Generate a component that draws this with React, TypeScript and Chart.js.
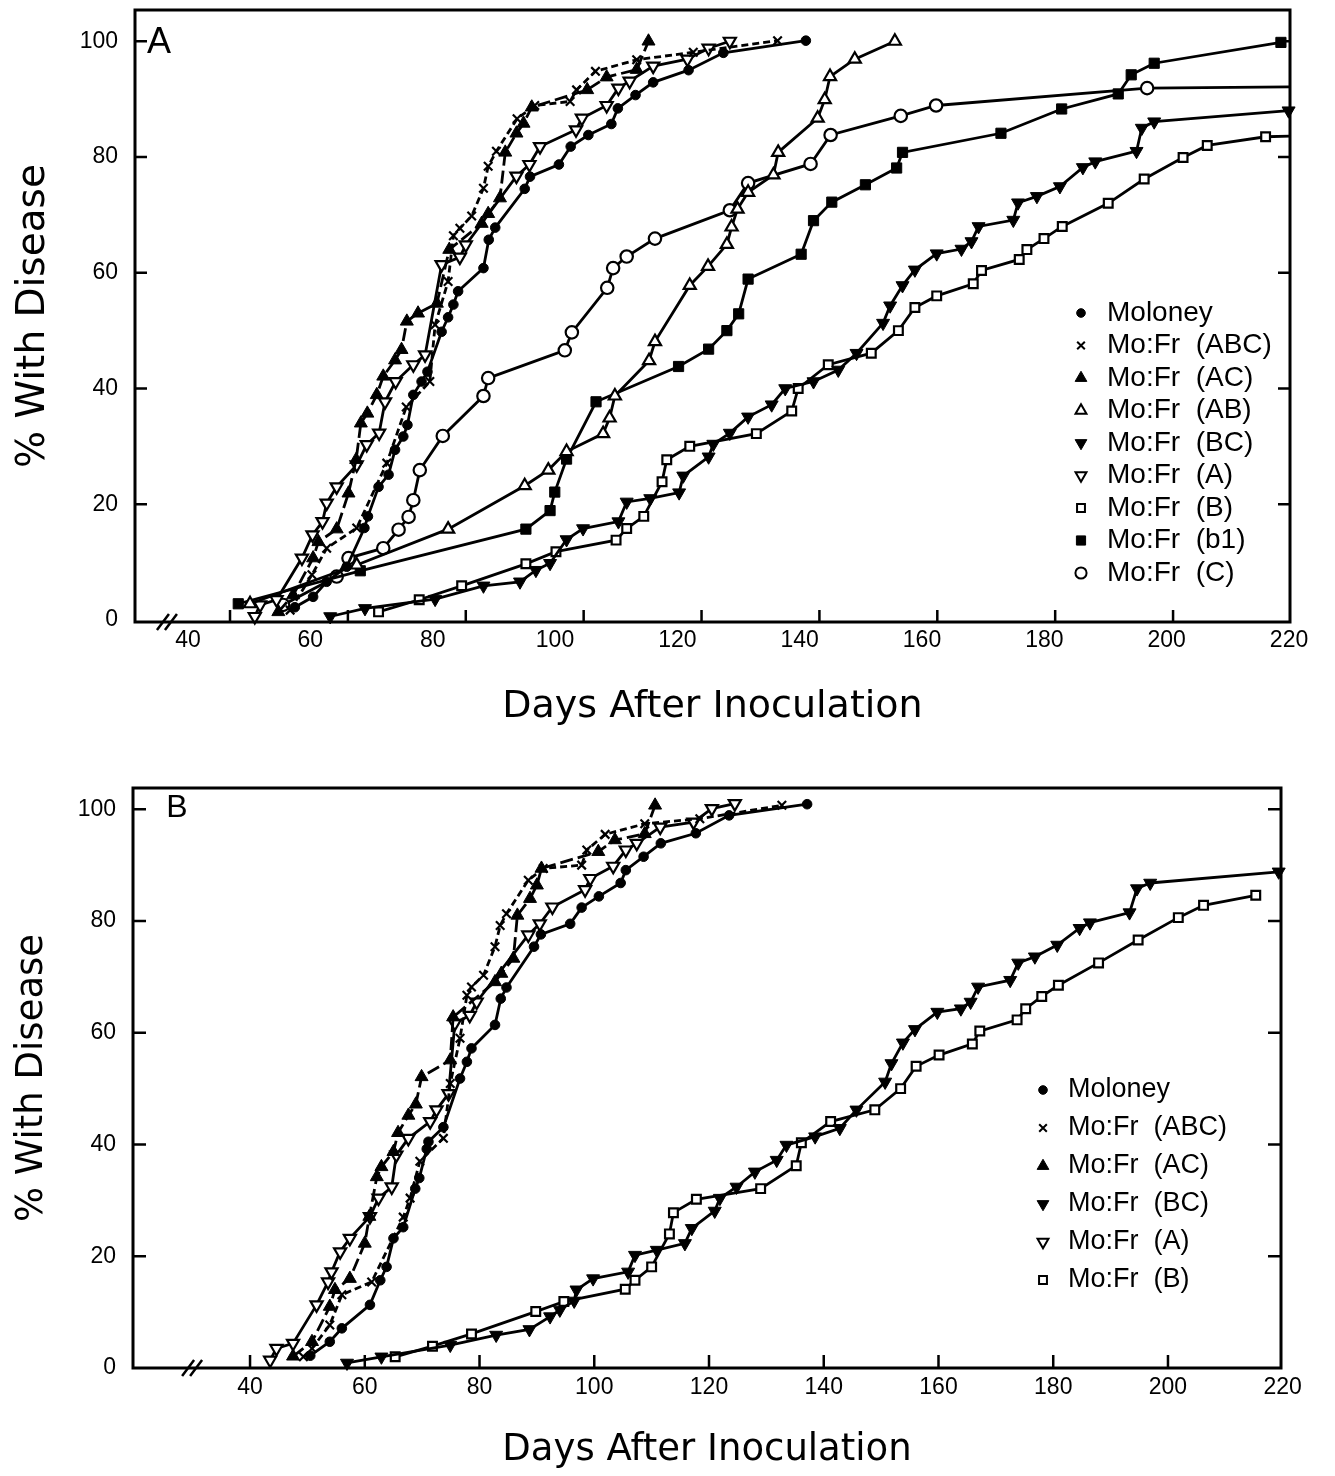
import React, { useEffect, useRef } from 'react';
import { Chart, registerables } from 'chart.js';
import { drawPoint } from 'chart.js/helpers';

Chart.register(...registerables);

type Pt = [number, number];

// ---------------- Panel A : [days after inoculation, % with disease] ----------------
const A_MOLONEY: Pt[] = [[51.0,2.2],[54.1,4.0],[56.4,6.6],[59.8,9.2],[62.8,15.9],[63.4,17.9],[65.2,23.0],[66.9,25.1],[68.0,29.4],[69.4,31.7],[70.1,33.7],[71.1,38.9],[72.5,41.2],[73.5,42.9],[75.9,49.8],[77.0,52.3],[77.9,54.5],[78.7,56.8],[83.0,60.8],[83.9,65.7],[85.0,67.8],[90.0,74.5],[90.9,76.6],[95.8,78.7],[97.8,81.8],[100.8,83.8],[104.7,85.7],[105.8,88.4],[108.8,90.7],[111.8,92.9],[117.8,95.0],[123.7,98.0],[137.7,100.1]];
const A_ABC: Pt[] = [[50.2,1.7],[53.9,7.8],[56.4,12.4],[61.5,15.9],[66.6,27.1],[69.9,36.8],[73.9,41.2],[74.8,51.0],[77.0,58.5],[77.9,66.4],[79.0,67.7],[81.0,69.8],[83.0,74.6],[83.8,78.4],[85.2,81.0],[88.7,86.6],[91.7,88.9],[97.7,89.6],[98.8,91.6],[102.0,94.8],[109.0,96.8],[118.6,98.1],[132.9,100.1]];
const A_AC: Pt[] = [[48.2,1.4],[50.7,4.3],[54.1,10.7],[55.0,13.5],[58.1,15.7],[60.1,21.9],[61.4,27.7],[62.2,34.0],[63.3,35.7],[64.9,38.9],[66.0,42.1],[68.0,44.9],[69.1,46.7],[70.0,51.6],[71.9,53.0],[75.1,54.7],[77.2,64.0],[82.7,68.5],[83.8,70.2],[85.8,72.9],[86.7,80.8],[88.6,84.1],[89.8,85.8],[91.2,88.6],[100.6,91.6],[103.9,93.8],[109.0,95.1],[111.0,100.0]];
const A_AB: Pt[] = [[43.4,2.8],[61.5,9.5],[77.0,15.7],[90.0,23.2],[94.0,25.9],[97.1,29.1],[103.3,32.2],[104.4,34.9],[105.3,38.7],[111.1,44.8],[112.1,48.1],[118.0,57.8],[121.1,61.1],[124.3,64.9],[125.1,67.9],[126.1,71.0],[127.9,73.9],[132.2,76.9],[133.0,80.8],[139.7,86.7],[140.9,89.9],[141.8,93.9],[146.0,96.9],[152.8,100.0]];
const A_BC: Pt[] = [[57.0,0.6],[62.9,2.0],[74.8,3.6],[83.0,5.9],[89.2,6.6],[91.9,8.6],[94.3,9.8],[97.1,13.9],[99.9,15.8],[105.9,17.0],[107.3,20.4],[111.3,21.0],[116.2,22.0],[116.9,24.9],[121.2,28.2],[122.0,30.4],[124.8,32.3],[127.9,35.1],[131.9,37.2],[134.2,40.0],[139.0,41.2],[143.2,43.2],[146.3,46.1],[150.8,51.3],[152.0,54.3],[154.1,57.8],[156.2,60.5],[159.9,63.3],[164.1,64.1],[165.8,65.4],[167.0,68.0],[172.9,69.1],[173.7,72.1],[176.9,73.2],[180.8,74.9],[184.7,78.2],[186.8,79.2],[193.8,81.0],[194.7,85.0],[196.8,86.1],[219.6,88.0]];
const A_A: Pt[] = [[44.2,0.6],[45.1,2.6],[47.9,3.5],[52.2,10.7],[54.0,14.7],[55.7,17.0],[56.4,20.2],[58.1,23.0],[61.5,26.8],[63.2,30.3],[65.3,32.3],[66.3,37.7],[68.1,41.2],[71.1,44.1],[73.1,45.8],[75.9,61.4],[79.0,62.7],[80.0,64.8],[88.6,76.7],[90.8,78.7],[92.6,81.8],[98.7,84.7],[99.7,86.7],[103.9,88.9],[105.9,91.9],[107.8,93.1],[111.8,95.7],[117.6,96.9],[121.2,98.8],[124.8,100.0]];
const A_B: Pt[] = [[65.2,1.4],[72.1,3.5],[79.3,5.9],[90.2,9.7],[95.3,11.8],[105.5,13.8],[107.3,15.8],[110.2,17.9],[113.3,23.9],[114.1,27.7],[118.0,30.0],[129.3,32.2],[135.3,36.1],[136.4,40.0],[141.5,44.1],[148.8,46.1],[153.4,50.0],[156.2,54.0],[159.9,56.0],[166.1,58.1],[167.5,60.4],[173.9,62.3],[175.2,64.0],[178.1,65.9],[181.2,68.0],[189.0,72.0],[195.1,76.2],[201.7,79.9],[205.8,82.0],[215.7,83.5],[219.8,83.6]];
const A_B1: Pt[] = [[41.4,2.8],[62.1,8.5],[90.2,15.7],[94.3,18.9],[95.1,22.1],[97.1,27.8],[102.1,37.7],[116.1,43.8],[121.2,46.8],[124.3,50.0],[126.3,52.9],[127.9,58.9],[136.9,63.2],[139.0,69.0],[142.1,72.2],[147.8,75.2],[153.1,78.1],[154.1,80.8],[170.8,84.1],[181.1,88.3],[190.7,90.9],[192.9,94.2],[196.8,96.2],[218.3,99.8]];
const A_C: Pt[] = [[49.0,2.6],[58.1,7.5],[60.1,10.7],[66.0,12.4],[68.6,15.6],[70.3,17.8],[71.1,20.7],[72.2,25.9],[76.1,31.8],[83.0,38.7],[83.8,41.8],[96.8,46.6],[98.0,49.7],[104.0,57.4],[105.0,60.8],[107.3,62.8],[112.1,65.9],[124.8,70.8],[127.9,75.5],[138.5,78.8],[141.9,83.8],[153.8,87.1],[159.8,88.9],[195.6,91.9],[219.8,92.1]];

// ---------------- Panel B ----------------
const B_MOLONEY: Pt[] = [[50.5,2.2],[53.9,4.7],[56.0,7.1],[60.9,11.3],[62.7,15.7],[63.8,18.1],[65.0,23.2],[66.7,25.2],[68.8,32.1],[69.5,34.0],[70.8,39.2],[71.1,40.5],[73.7,43.1],[76.6,51.8],[77.8,54.8],[78.6,57.2],[82.7,61.4],[83.7,66.1],[84.7,68.1],[89.5,75.4],[90.7,77.6],[95.8,79.5],[97.8,82.4],[100.8,84.4],[104.6,86.8],[105.5,89.1],[108.6,91.5],[111.6,93.9],[117.7,95.7],[123.5,98.9],[137.1,100.9]];
const B_ABC: Pt[] = [[49.3,2.0],[50.8,3.5],[53.9,7.7],[56.0,13.1],[61.2,15.4],[66.7,27.0],[67.9,30.4],[69.6,37.0],[73.7,41.1],[74.9,50.9],[76.6,59.0],[77.8,66.7],[78.6,68.2],[80.7,70.3],[82.7,75.4],[83.6,79.2],[84.7,81.3],[88.5,87.3],[91.1,89.4],[97.8,90.0],[98.7,92.7],[101.9,95.5],[108.8,97.4],[118.4,98.3],[132.7,100.7]];
const B_AC: Pt[] = [[47.5,2.1],[50.8,4.7],[53.9,11.0],[54.8,14.0],[57.4,16.0],[60.0,22.3],[60.8,27.1],[62.1,34.2],[62.9,36.0],[65.0,38.7],[65.8,42.1],[67.6,45.2],[68.9,47.2],[69.9,52.1],[74.9,55.1],[75.4,62.8],[82.7,69.1],[83.8,70.6],[85.9,73.3],[86.6,81.0],[88.8,84.0],[90.0,86.4],[90.8,89.4],[100.7,92.4],[103.6,94.5],[108.8,95.6],[110.6,100.7]];
const B_BC: Pt[] = [[56.9,0.9],[62.9,2.0],[74.9,4.1],[82.9,5.9],[88.7,6.9],[92.3,9.2],[94.0,10.4],[96.5,12.0],[96.9,14.0],[99.8,16.0],[105.9,17.2],[107.1,20.2],[110.9,21.1],[115.8,22.3],[117.0,25.0],[121.0,28.1],[121.9,30.4],[124.8,32.4],[128.0,35.1],[131.8,37.2],[133.5,39.9],[138.5,41.4],[142.8,42.9],[145.7,46.2],[150.7,51.2],[151.8,54.5],[153.8,58.2],[155.9,60.6],[159.8,63.7],[163.9,64.3],[165.6,65.5],[166.9,68.2],[172.5,69.4],[173.9,72.5],[176.8,73.6],[180.7,75.7],[184.6,78.7],[186.4,79.7],[193.3,81.5],[194.6,85.8],[196.9,86.8],[219.3,88.8]];
const B_A: Pt[] = [[43.5,1.4],[44.6,3.5],[47.5,4.4],[51.6,11.3],[53.6,15.4],[54.2,17.2],[55.7,20.8],[57.4,23.2],[60.9,27.1],[62.4,30.4],[64.7,32.4],[65.5,38.1],[67.6,41.1],[71.4,44.1],[72.5,46.2],[74.6,49.1],[75.7,61.7],[78.3,63.1],[79.5,65.5],[88.5,77.5],[90.5,79.5],[92.7,82.5],[98.4,85.6],[99.3,87.6],[103.3,89.8],[105.5,92.7],[107.4,93.9],[111.5,96.8],[117.3,97.7],[120.5,100.1],[124.5,101.0]];
const B_B: Pt[] = [[65.3,2.0],[71.8,3.9],[78.6,6.1],[89.8,10.1],[94.7,11.9],[105.4,14.1],[107.1,15.7],[110.0,18.1],[113.1,24.0],[113.8,27.8],[117.8,30.2],[129.0,32.1],[135.2,36.2],[136.1,40.3],[141.2,44.1],[148.9,46.2],[153.4,50.0],[156.1,54.0],[160.1,56.0],[165.9,58.0],[167.2,60.3],[173.7,62.3],[175.2,64.3],[178.0,66.5],[180.9,68.5],[187.9,72.5],[194.8,76.6],[201.8,80.6],[206.2,82.8],[215.3,84.6]];

// ---------------- Axis ticks ----------------
const X_TICKS = [40, 60, 80, 100, 120, 140, 160, 180, 200, 220];
const Y_TICKS = [0, 20, 40, 60, 80, 100];

const X_TITLE = 'Days After Inoculation';
const Y_TITLE = '% With Disease';

type Style = { label: string; pointStyle: string; rotation: number; filled: boolean; radius: number; dash: number[] };
const STYLE: Record<string, Style> = {
  moloney: { label: 'Moloney', pointStyle: 'circle', rotation: 0, filled: true, radius: 4.8, dash: [] },
  abc: { label: 'Mo:Fr (ABC)', pointStyle: 'crossRot', rotation: 0, filled: false, radius: 6, dash: [7, 4] },
  ac: { label: 'Mo:Fr (AC)', pointStyle: 'triangle', rotation: 0, filled: true, radius: 7.5, dash: [13, 5] },
  ab: { label: 'Mo:Fr (AB)', pointStyle: 'triangle', rotation: 0, filled: false, radius: 7, dash: [] },
  bc: { label: 'Mo:Fr (BC)', pointStyle: 'triangle', rotation: 180, filled: true, radius: 7.5, dash: [] },
  a: { label: 'Mo:Fr (A)', pointStyle: 'triangle', rotation: 180, filled: false, radius: 7, dash: [] },
  b: { label: 'Mo:Fr (B)', pointStyle: 'rect', rotation: 0, filled: false, radius: 6.2, dash: [] },
  b1: { label: 'Mo:Fr (b1)', pointStyle: 'rect', rotation: 0, filled: true, radius: 7.2, dash: [] },
  c: { label: 'Mo:Fr (C)', pointStyle: 'circle', rotation: 0, filled: false, radius: 6.2, dash: [] },
};

function makeDataset(key: string, pts: Pt[], lastIsLineEnd = false) {
  const s = STYLE[key];
  const n = pts.length;
  return {
    label: s.label,
    styleKey: key,
    data: pts.map(([x, y]) => ({ x, y })),
    showLine: true,
    fill: false,
    tension: 0,
    borderColor: '#000',
    backgroundColor: s.filled ? '#000' : '#fff',
    borderWidth: 2.8,
    borderDash: s.dash,
    pointStyle: s.pointStyle,
    pointRotation: s.rotation,
    pointRadius: lastIsLineEnd ? (c: any) => (c.dataIndex === n - 1 ? 0 : s.radius) : s.radius,
    pointBorderWidth: s.filled ? 1 : 2.2,
    pointBorderColor: '#000',
    pointBackgroundColor: s.filled ? '#000' : '#fff',
    clip: 12,
  };
}

const figurePlugin = {
  id: 'figure',
  afterDatasetsDraw(chart: any, _args: any, opts: any) {
    const { ctx, chartArea: ca } = chart;
    const xs = chart.scales.x;
    const ys = chart.scales.y;
    ctx.save();
    ctx.strokeStyle = '#000';
    ctx.setLineDash([]);
    ctx.lineWidth = 3;
    ctx.strokeRect(ca.left, ca.top, ca.right - ca.left, ca.bottom - ca.top);
    const L = opts.tickLength;
    ctx.lineWidth = 2.5;
    ctx.beginPath();
    xs.ticks.forEach((t: any) => {
      if (t.value > xs.max - 1) return;
      const px = xs.getPixelForValue(t.value);
      ctx.moveTo(px, ca.bottom);
      ctx.lineTo(px, ca.bottom - L);
    });
    ys.ticks.forEach((t: any) => {
      if (t.value < 1) return;
      const py = ys.getPixelForValue(t.value);
      ctx.moveTo(ca.left, py);
      ctx.lineTo(ca.left + L, py);
      ctx.moveTo(ca.right, py);
      ctx.lineTo(ca.right - L, py);
    });
    ctx.stroke();
    // axis break
    const bx = xs.getPixelForValue(opts.breakAt);
    ctx.beginPath();
    for (const dx of [-4, 4]) {
      ctx.moveTo(bx + dx - 6, ca.bottom + 8);
      ctx.lineTo(bx + dx + 6, ca.bottom - 8);
    }
    ctx.stroke();
    // panel letter
    ctx.fillStyle = '#000';
    ctx.font = opts.letterFont;
    ctx.textAlign = 'center';
    ctx.textBaseline = 'middle';
    ctx.fillText(opts.letter, ca.left + opts.letterDx, ca.top + opts.letterDy);
    // legend
    const lg = opts.legend;
    ctx.font = lg.font;
    ctx.textAlign = 'left';
    ctx.textBaseline = 'middle';
    chart.data.datasets.forEach((ds: any, i: number) => {
      const s = STYLE[ds.styleKey];
      const x = ca.right - lg.fromRight;
      const y = ca.top + lg.fromTop + i * lg.rowGap;
      ctx.fillStyle = s.filled ? '#000' : '#fff';
      ctx.strokeStyle = '#000';
      ctx.lineWidth = s.filled ? 1 : 2;
      drawPoint(ctx, { pointStyle: s.pointStyle, rotation: s.rotation, radius: s.radius * 0.9, borderWidth: s.filled ? 1 : 2 } as any, x, y);
      ctx.fillStyle = '#000';
      ctx.fillText(ds.label.replace(' ', '  '), x + lg.textDx, y);
    });
    ctx.restore();
  },
};

const TICK_FONT = { family: '"Liberation Sans", Arial, sans-serif', size: 23 };
const TITLE_FAMILY = '"DejaVu Sans", sans-serif';

function setTicks(values: number[]) {
  return (scale: any) => {
    scale.ticks = values.map((v) => ({ value: v }));
  };
}

function noPad(s: any) {
  s.paddingTop = 0;
  s.paddingBottom = 0;
  s.paddingLeft = 0;
  s.paddingRight = 0;
}

function yScale(min: number, max: number, width: number, titleSize: number) {
  return {
    type: 'linear',
    position: 'left',
    min,
    max,
    afterBuildTicks: setTicks(Y_TICKS),
    afterFit: (s: any) => { s.width = width; noPad(s); },
    grid: { display: false, drawTicks: false },
    border: { display: false },
    ticks: { font: TICK_FONT, color: '#000', padding: 17, callback: (v: any) => String(v) },
    title: { display: true, text: Y_TITLE, color: '#000', font: { family: TITLE_FAMILY, size: titleSize }, padding: { top: 10, bottom: 0 } },
  };
}

export default function App() {
  const refA = useRef<HTMLCanvasElement>(null);
  const refB = useRef<HTMLCanvasElement>(null);

  useEffect(() => {
    document.body.style.margin = '0';
    const chartA = new Chart(refA.current as HTMLCanvasElement, {
      type: 'scatter',
      data: {
        datasets: [
          makeDataset('moloney', A_MOLONEY),
          makeDataset('abc', A_ABC),
          makeDataset('ac', A_AC),
          makeDataset('ab', A_AB),
          makeDataset('bc', A_BC),
          makeDataset('a', A_A),
          makeDataset('b', A_B, true),
          makeDataset('b1', A_B1),
          makeDataset('c', A_C, true),
        ] as any,
      },
      options: {
        animation: false,
        responsive: false,
        events: [],
        layout: { padding: { left: 0, top: 10, right: 45, bottom: 0 } },
        plugins: {
          legend: { display: false },
          tooltip: { enabled: false },
          figure: {
            tickLength: 12,
            breakAt: 29.3,
            letter: 'A',
            letterFont: '36px "Liberation Sans", Arial, sans-serif',
            letterDx: 24,
            letterDy: 33,
            legend: { font: '28px "Liberation Sans", Arial, sans-serif', fromRight: 209, fromTop: 303, rowGap: 32.5, textDx: 26 },
          },
        } as any,
        scales: {
          x: {
            type: 'linear', position: 'bottom', display: false,
            min: 23.88, max: 219.84,
            afterBuildTicks: setTicks(X_TICKS),
          },
          xl: {
            type: 'linear', position: 'bottom',
            min: 31.335, max: 220.16,
            afterBuildTicks: setTicks(X_TICKS),
            afterFit: (s: any) => { s.height = 128; noPad(s); },
            grid: { display: false, drawTicks: false },
            border: { display: false },
            ticks: { font: TICK_FONT, color: '#000', padding: 5, maxRotation: 0, autoSkip: false, callback: (v: any) => String(v) },
            title: { display: true, text: X_TITLE, color: '#000', font: { family: TITLE_FAMILY, size: 38 }, padding: { top: 0, bottom: 20 } },
          },
          y: yScale(-0.35, 105.4, 135, 39),
        } as any,
      },
      plugins: [figurePlugin as any],
    });

    const chartB = new Chart(refB.current as HTMLCanvasElement, {
      type: 'scatter',
      data: {
        datasets: [
          makeDataset('moloney', B_MOLONEY),
          makeDataset('abc', B_ABC),
          makeDataset('ac', B_AC),
          makeDataset('bc', B_BC),
          makeDataset('a', B_A),
          makeDataset('b', B_B),
        ] as any,
      },
      options: {
        animation: false,
        responsive: false,
        events: [],
        layout: { padding: { left: 0, top: 38, right: 54, bottom: 0 } },
        plugins: {
          legend: { display: false },
          tooltip: { enabled: false },
          figure: {
            tickLength: 13,
            breakAt: 29.9,
            letter: 'B',
            letterFont: '32px "Liberation Sans", Arial, sans-serif',
            letterDx: 44,
            letterDy: 20,
            legend: { font: '27px "Liberation Sans", Arial, sans-serif', fromRight: 238, fromTop: 302, rowGap: 38, textDx: 25 },
          },
        } as any,
        scales: {
          x: {
            type: 'linear', position: 'bottom',
            min: 19.6, max: 219.7,
            afterBuildTicks: setTicks(X_TICKS),
            afterFit: (s: any) => { s.height = 108; noPad(s); },
            grid: { display: false, drawTicks: false },
            border: { display: false },
            ticks: { font: TICK_FONT, color: '#000', padding: 6, maxRotation: 0, autoSkip: false, callback: (v: any) => String(v) },
            title: { display: true, text: X_TITLE, color: '#000', font: { family: TITLE_FAMILY, size: 37 }, padding: { top: 0, bottom: 3 } },
          },
          y: yScale(0, 103.8, 133, 37),
        } as any,
      },
      plugins: [figurePlugin as any],
    });

    return () => {
      chartA.destroy();
      chartB.destroy();
    };
  }, []);

  return (
    <div style={{ width: 1335, height: 1476, background: '#fff' }}>
      <canvas ref={refA} width={1335} height={750} style={{ display: 'block' }} />
      <canvas ref={refB} width={1335} height={726} style={{ display: 'block' }} />
    </div>
  );
}
